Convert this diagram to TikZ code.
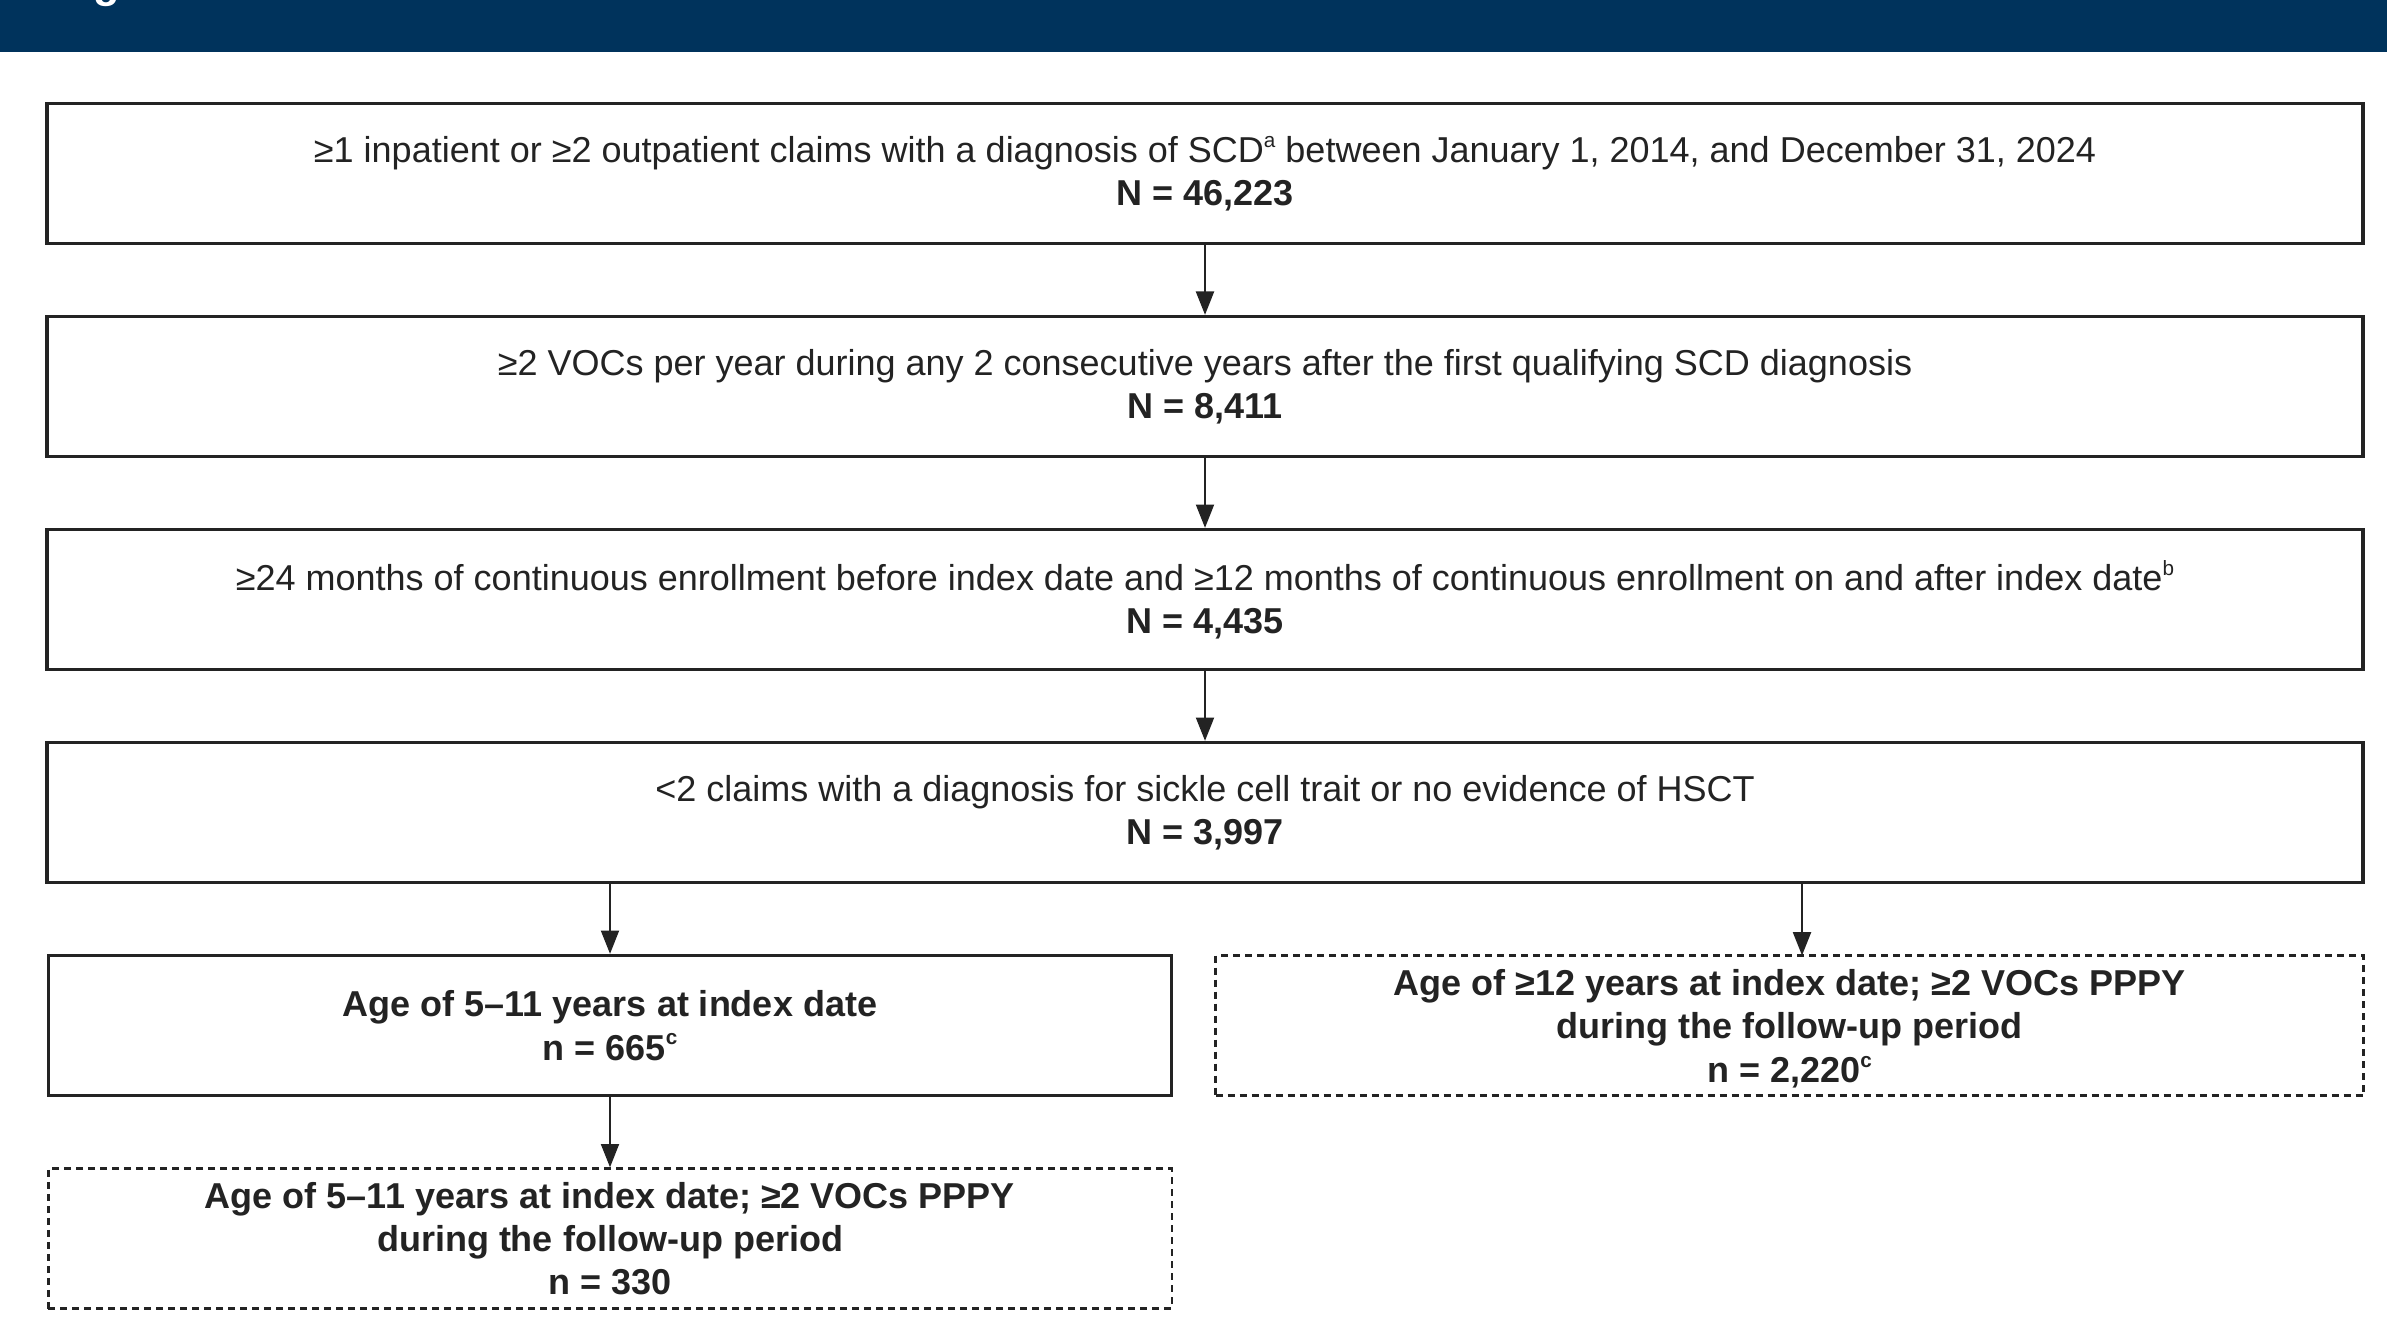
\documentclass[tikz,border=0pt]{standalone}
\usepackage{fontspec}
\setmainfont{Liberation Sans}
\usetikzlibrary{arrows.meta,positioning}
\definecolor{HeaderNavy}{RGB}{0,51,92}
\definecolor{BoxGray}{RGB}{35,35,35}
\newcommand{\fnmark}[1]{\raisebox{0.42em}{\fontsize{6.2}{6.2}\selectfont #1}}

\tikzset{
  stagebox/.style={draw=BoxGray,line width=1pt,align=center,inner sep=0pt,
    minimum width=694.8pt,minimum height=42pt,text=BoxGray,
    font=\fontsize{10.8}{12.8}\selectfont},
  subbox/.style={stagebox,minimum width=337pt,
    font=\bfseries\fontsize{10.8}{13}\selectfont},
  optbox/.style={subbox,line width=0.7pt,dash pattern=on 2.1pt off 1.5pt},
  flow/.style={->,line width=0.6pt,BoxGray}
}

\begin{document}
\begin{tikzpicture}[x=0.3pt,y=-0.3pt,>={Triangle[width=5.4pt,length=7pt]}]
  \useasboundingbox (0,0) rectangle (2387,1340);
  % header band
  \fill[HeaderNavy] (0,0) rectangle (2387,52);
  \node[anchor=base west,inner sep=0pt,text=white,font=\bfseries\fontsize{13}{15}\selectfont] (title) at (54,-2) {Figure};

  % attrition steps
  \node[stagebox] (claims) at (1205,173.5)
    {≥1 inpatient or ≥2 outpatient claims with a diagnosis of SCD\fnmark{a} between January 1, 2014, and December 31, 2024\\\textbf{N = 46,223}};
  \node[stagebox] (vocs) at (1205,386.5)
    {≥2 VOCs per year during any 2 consecutive years after the first qualifying SCD diagnosis\\\textbf{N = 8,411}};
  \node[stagebox] (enroll) at (1205,599.5)
    {≥24 months of continuous enrollment before index date and ≥12 months of continuous enrollment on and after index date\fnmark{b}\\\textbf{N = 4,435}};
  \node[stagebox] (trait) at (1205,812.5)
    {<2 claims with a diagnosis for sickle cell trait or no evidence of HSCT\\\textbf{N = 3,997}};

  % age groups
  \node[subbox] (young) at (610,1025.5)
    {Age of 5--11 years at index date\\n = 665\fnmark{c}};
  \node[optbox,minimum width=344.4pt] (older) at (1789.5,1025.5)
    {\rule{0pt}{9.7pt}Age of ≥12 years at index date; ≥2 VOCs PPPY\\during the follow-up period\\n = 2,220\fnmark{c}};
  \node[optbox] (youngvoc) at (610,1238.5)
    {Age of 5--11 years at index date; ≥2 VOCs PPPY\\during the follow-up period\\n = 330};
  \coordinate (olderin) at (1802,955.5);

  \draw[flow] (claims) -- (vocs);
  \draw[flow] (vocs) -- (enroll);
  \draw[flow] (enroll) -- (trait);
  \draw[flow] (trait.south -| young.north) -- (young.north);
  \draw[flow] (trait.south -| olderin) -- (olderin);
  \draw[flow] (young) -- (youngvoc);
\end{tikzpicture}
\end{document}
